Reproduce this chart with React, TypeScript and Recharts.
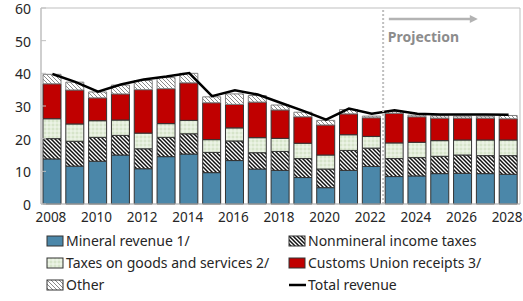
import { ComposedChart, Bar, Line, XAxis, YAxis, ReferenceLine, ReferenceArea, ReferenceDot } from "recharts";

const years = [2008, 2009, 2010, 2011, 2012, 2013, 2014, 2015, 2016, 2017, 2018, 2019, 2020, 2021, 2022, 2023, 2024, 2025, 2026, 2027, 2028];
const mineral = [13.8, 11.6, 13.1, 15.0, 10.8, 14.5, 15.3, 9.6, 13.3, 10.7, 10.3, 8.1, 5.0, 10.3, 11.5, 8.4, 8.6, 9.3, 9.4, 9.3, 9.1];
const nonmineral = [6.2, 7.6, 7.3, 6.0, 6.1, 5.9, 6.2, 6.2, 6.0, 5.0, 5.8, 5.8, 5.7, 6.1, 5.6, 5.5, 5.6, 5.3, 5.6, 5.5, 5.7];
const goods = [6.1, 5.3, 5.1, 4.7, 4.8, 4.2, 4.1, 3.9, 4.0, 4.6, 4.0, 4.7, 4.3, 4.8, 3.6, 4.8, 4.7, 4.8, 4.6, 4.8, 4.8];
const customs = [10.7, 10.4, 7.0, 8.0, 13.3, 10.7, 11.5, 11.3, 7.2, 10.9, 8.7, 8.1, 9.2, 6.4, 5.7, 9.1, 7.8, 6.9, 6.7, 6.7, 6.5];
const other = [2.9, 2.4, 1.8, 2.7, 2.8, 3.4, 2.9, 1.8, 3.2, 2.0, 1.5, 1.4, 1.4, 1.3, 0.5, 0.6, 0.5, 0.7, 0.6, 0.6, 1.0];
const total = [39.8, 37.4, 34.4, 36.6, 38.1, 39.0, 40.1, 33.0, 34.8, 33.5, 31.0, 28.5, 25.8, 29.2, 27.6, 28.7, 27.6, 27.4, 27.4, 27.4, 27.3];

const xTicks = [2008, 2010, 2012, 2014, 2016, 2018, 2020, 2022, 2024, 2026, 2028];
const yTicks = [0, 10, 20, 30, 40, 50, 60];

const data = years.map((year, i) => ({
  year,
  mineral: mineral[i],
  nonmineral: nonmineral[i],
  goods: goods[i],
  customs: customs[i],
  other: other[i],
  total: total[i],
}));

const font = "'Noto Sans', sans-serif";
const textColor = "#262626";
const edge = "#333333";

const legendItems = [
  { label: "Mineral revenue 1/", fill: "#4b87a9" },
  { label: "Nonmineral income taxes", fill: "url(#hatchDark)" },
  { label: "Taxes on goods and services 2/", fill: "url(#dotsGreen)" },
  { label: "Customs Union receipts 3/", fill: "#c00000" },
  { label: "Other", fill: "url(#hatchLight)" },
  { label: "Total revenue", line: true },
];

function Arrow(props: any) {
  const { cx, cy } = props;
  return <polygon points={`${cx - 8},${cy - 4} ${cx},${cy} ${cx - 8},${cy + 4}`} fill="#b3b3b3" />;
}

function Patterns() {
  return (
    <svg width={0} height={0} style={{ position: "absolute" }}>
      <defs>
        <pattern id="hatchDark" width="4" height="4" patternUnits="userSpaceOnUse">
          <rect width="4" height="4" fill="#ffffff" />
          <path d="M-1,3 l2,2 M0,0 l4,4 M3,-1 l2,2" stroke="#111111" strokeWidth="1.5" />
        </pattern>
        <pattern id="hatchLight" width="4" height="4" patternUnits="userSpaceOnUse">
          <rect width="4" height="4" fill="#ffffff" />
          <path d="M-1,3 l2,2 M0,0 l4,4 M3,-1 l2,2" stroke="#8a8a8a" strokeWidth="1" />
        </pattern>
        <pattern id="dotsGreen" width="4" height="4" patternUnits="userSpaceOnUse">
          <rect width="4" height="4" fill="#e4eedb" />
          <circle cx="1" cy="1" r="0.8" fill="#c4d8b4" />
          <circle cx="3" cy="3" r="0.8" fill="#f6faf2" />
        </pattern>
      </defs>
    </svg>
  );
}

export default function App() {
  return (
    <div style={{ position: "absolute", left: 0, top: 0, width: 523, height: 301, fontFamily: font }}>
      <Patterns />
      <ComposedChart width={523} height={230} data={data} margin={{ top: 8, right: 3, bottom: 0, left: 0 }}>
        <ReferenceArea x1={2007.5} x2={2028.5} y1={0} y2={60} fill="none" stroke="#bfbfbf" strokeWidth={1} />
        <XAxis
          dataKey="year"
          type="number"
          domain={[2007.5, 2028.5]}
          ticks={xTicks}
          height={26}
          tickSize={0}
          tickMargin={8}
          axisLine={{ stroke: "#bfbfbf" }}
          tick={{ fill: textColor, fontSize: 13.5, fontFamily: font, dx: -1.5 }}
        />
        <YAxis
          domain={[0, 60]}
          ticks={yTicks}
          width={41}
          tickSize={-5}
          tickMargin={15}
          axisLine={{ stroke: "#bfbfbf" }}
          tickLine={{ stroke: "#bfbfbf" }}
          tick={{ fill: textColor, fontSize: 14, fontFamily: font, dy: 1 }}
        />
        <Bar dataKey="mineral" stackId="a" barSize={18} fill="#4b87a9" stroke={edge} strokeWidth={1} isAnimationActive={false} />
        <Bar dataKey="nonmineral" stackId="a" barSize={18} fill="url(#hatchDark)" stroke={edge} strokeWidth={1} isAnimationActive={false} />
        <Bar dataKey="goods" stackId="a" barSize={18} fill="url(#dotsGreen)" stroke={edge} strokeWidth={1} isAnimationActive={false} />
        <Bar dataKey="customs" stackId="a" barSize={18} fill="#c00000" stroke={edge} strokeWidth={1} isAnimationActive={false} />
        <Bar dataKey="other" stackId="a" barSize={18} fill="url(#hatchLight)" stroke="#7f7f7f" strokeWidth={1} isAnimationActive={false} />
        <Line dataKey="total" type="linear" stroke="#000000" strokeWidth={2.5} dot={false} isAnimationActive={false} />
        <ReferenceLine x={2022.5} stroke="#bfbfbf" strokeWidth={2} strokeDasharray="2 2" />
        <ReferenceLine
          segment={[{ x: 2022.75, y: 56.6 }, { x: 2026.4, y: 56.6 }]}
          stroke="#b3b3b3"
          strokeWidth={2.5}
          label={{ value: "Projection", position: "insideBottomLeft", dy: 28, dx: -6, fill: "#8c8c8c", fontSize: 14, fontWeight: 700, fontFamily: font }}
        />
        <ReferenceDot x={2026.65} y={56.6} r={4} shape={<Arrow />} />
      </ComposedChart>
      <div style={{ position: "absolute", left: 46, top: 230, width: 470, display: "grid", gridTemplateColumns: "242px 228px", rowGap: 0, fontSize: 14, color: textColor, lineHeight: "22px" }}>
        {legendItems.map((item) => (
          <div key={item.label} style={{ display: "flex", alignItems: "center", whiteSpace: "nowrap" }}>
            <svg width={19} height={12} style={{ marginRight: 1 }}>
              {item.line ? (
                <line x1={1} y1={6} x2={18} y2={6} stroke="#000" strokeWidth={2.5} />
              ) : (
                <rect x={1} y={1} width={16} height={10} fill={item.fill} stroke={edge} strokeWidth={1} />
              )}
            </svg>
            <span>{item.label}</span>
          </div>
        ))}
      </div>
    </div>
  );
}
